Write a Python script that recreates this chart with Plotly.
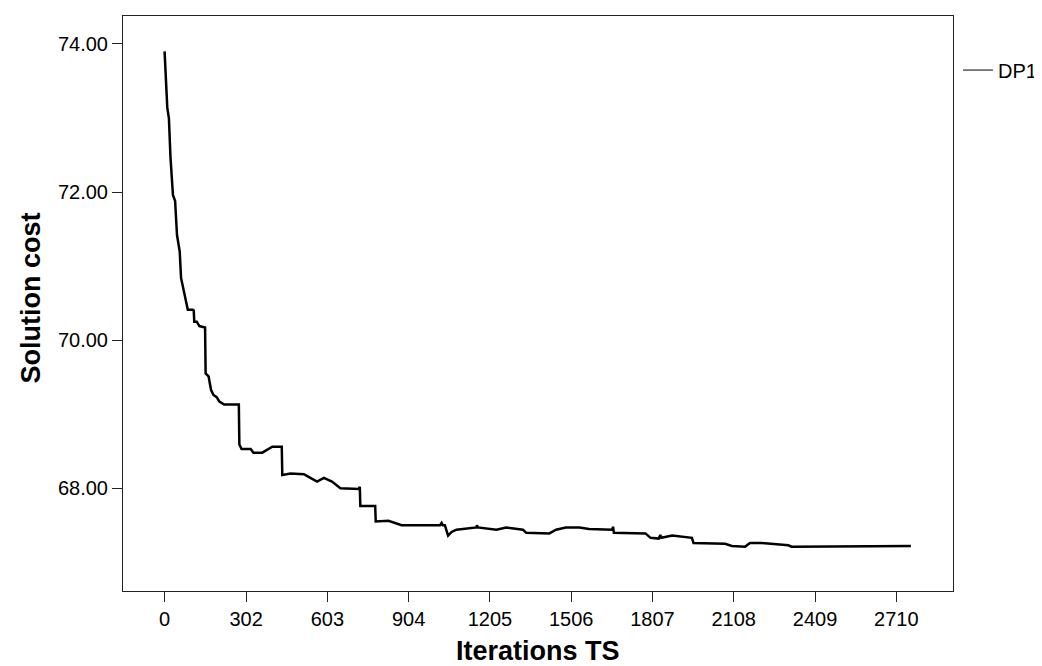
import plotly.graph_objects as go

iterations = [0, 6, 10, 16, 22, 31, 39, 46, 56, 61, 74, 86, 104, 108, 110, 119, 129, 150, 152,
              163, 172, 181, 193, 203, 221, 275, 277, 285, 319, 329, 362, 381, 399, 434, 436,
              467, 516, 540, 565, 590, 620, 651, 719, 723, 725, 780, 782, 829, 878, 1020, 1026,
              1030, 1038, 1050, 1063, 1081, 1118, 1155, 1157, 1160, 1229, 1265, 1327, 1339,
              1425, 1450, 1486, 1536, 1572, 1658, 1661, 1664, 1781, 1800, 1830, 1836, 1840,
              1880, 1953, 1959, 2076, 2101, 2150, 2168, 2212, 2310, 2322, 2728, 2764]
cost = [73.90, 73.54, 73.14, 73.00, 72.46, 71.96, 71.88, 71.42, 71.20, 70.84, 70.61, 70.41,
        70.41, 70.40, 70.25, 70.25, 70.19, 70.17, 69.55, 69.51, 69.33, 69.26, 69.23, 69.17,
        69.13, 69.13, 68.59, 68.53, 68.53, 68.48, 68.48, 68.52, 68.56, 68.56, 68.18, 68.20,
        68.19, 68.14, 68.09, 68.14, 68.09, 68.00, 67.99, 68.02, 67.76, 67.76, 67.55, 67.56,
        67.50, 67.50, 67.53, 67.50, 67.50, 67.36, 67.41, 67.44, 67.46, 67.47, 67.50, 67.47,
        67.44, 67.47, 67.44, 67.40, 67.39, 67.44, 67.47, 67.47, 67.45, 67.44, 67.48, 67.40,
        67.39, 67.33, 67.32, 67.37, 67.33, 67.36, 67.33, 67.26, 67.25, 67.22, 67.21, 67.26,
        67.26, 67.23, 67.21, 67.21, 67.22]

x_ticks = [0, 302, 603, 904, 1205, 1506, 1807, 2108, 2409, 2710]
y_ticks = [68, 70, 72, 74]
y_tick_labels = ["68.00", "70.00", "72.00", "74.00"]

FONT = "Arial, Liberation Sans, sans-serif"

fig = go.Figure()
fig.add_trace(go.Scatter(x=iterations, y=cost, mode="lines", name="DP1",
                         line=dict(color="black", width=2.5), showlegend=False,
                         legendgroup="dp1"))
# legend entry with the thin sample line used in the reference
fig.add_trace(go.Scatter(x=[None], y=[None], mode="lines", name="DP1",
                         line=dict(color="black", width=1), showlegend=True,
                         legendgroup="dp1"))

axis_common = dict(showline=True, linecolor="#222222", linewidth=1, mirror=True,
                   ticks="outside", ticklen=10, tickwidth=1, tickcolor="#222222",
                   showgrid=False, zeroline=False,
                   tickfont=dict(family=FONT, size=20, color="black"))

fig.update_xaxes(range=[-154, 2920], tickvals=x_ticks, **axis_common)
fig.update_yaxes(range=[66.612, 74.378], tickvals=y_ticks, ticktext=y_tick_labels,
                 **axis_common)

fig.update_layout(
    width=1042, height=666,
    margin=dict(l=115, r=93, t=8, b=83),
    paper_bgcolor="white", plot_bgcolor="white",
    showlegend=True,
    legend=dict(x=1.006, y=0.906, xanchor="left", yanchor="middle",
                font=dict(family=FONT, size=20, color="black"),
                bgcolor="rgba(0,0,0,0)", borderwidth=0),
    annotations=[
        dict(text="<b>Iterations TS</b>", xref="paper", yref="paper", x=0.5, y=0,
             xanchor="center", yanchor="bottom", yshift=-77, showarrow=False,
             font=dict(family=FONT, size=27, color="black")),
        dict(text="<b>Solution cost</b>", xref="paper", yref="paper", x=0, y=0.5,
             xanchor="center", yanchor="middle", xshift=-93, yshift=5, textangle=-90,
             showarrow=False, font=dict(family=FONT, size=27, color="black")),
    ],
)

fig.write_html("out.html")
